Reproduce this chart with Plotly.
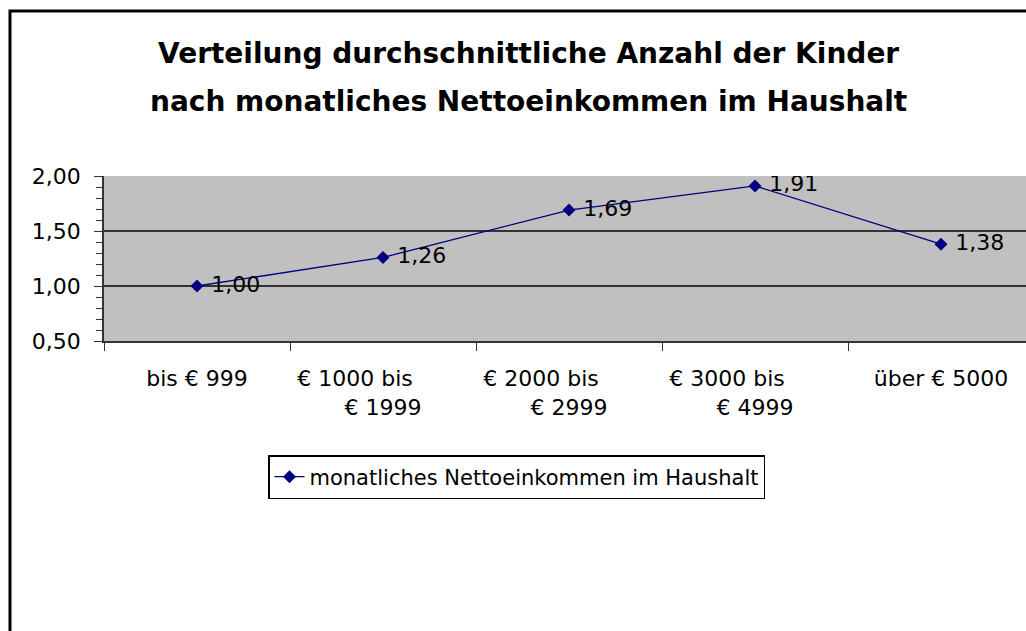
import plotly.graph_objects as go

# Daten
kategorien = ["bis € 999", "€ 1000 bis<br>€ 1999", "€ 2000 bis<br>€ 2999",
              "€ 3000 bis<br>€ 4999", "über € 5000"]
kinder = [1.00, 1.26, 1.69, 1.91, 1.38]
serie = "monatliches Nettoeinkommen im Haushalt"
titel_1 = "Verteilung durchschnittliche Anzahl der Kinder"
titel_2 = "nach monatliches Nettoeinkommen im Haushalt"

W, H = 1026, 631
L, R, T, B = 104, 0, 176, 290
FONT = "DejaVu Sans, Liberation Sans, Arial, sans-serif"


def px_x(x):
    return (x - L) / (W - L - R)


def px_y(y):
    return (H - B - y) / (H - T - B)


# erste Zeile der Beschriftung wie im Original etwas nach links versetzt
ticktext = [k.replace("<br>", "\u00a0" * 8 + "<br>") for k in kategorien]

fig = go.Figure()

fig.add_trace(
    go.Scatter(
        x=kategorien,
        y=kinder,
        mode="lines+markers+text",
        name=serie,
        line=dict(color="#000080", width=1.3),
        marker=dict(symbol="diamond", size=10, color="#000080"),
        texttemplate=" %{y:.2f}",
        textposition="middle right",
        textfont=dict(family=FONT, size=22, color="black"),
    )
)

# Titel in zwei Zeilen
for text, y in [(titel_1, 53), (titel_2, 101)]:
    fig.add_annotation(
        text="<b>" + text + "</b>",
        xref="paper", yref="paper",
        x=px_x(528), y=px_y(y),
        xanchor="center", yanchor="middle",
        showarrow=False,
        font=dict(family=FONT, size=28, color="black"),
    )

# Rahmen des Diagramms
fig.add_shape(
    type="path",
    xref="paper", yref="paper",
    path="M %f %f L %f %f L %f %f" % (
        px_x(10), px_y(640), px_x(10), px_y(11), px_x(1040), px_y(11)),
    line=dict(color="black", width=3),
)

fig.update_layout(
    width=W,
    height=H,
    margin=dict(l=L, r=R, t=T, b=B),
    paper_bgcolor="white",
    plot_bgcolor="#c0c0c0",
    separators=",.",
    font=dict(family=FONT, color="black"),
    showlegend=True,
    legend=dict(
        x=px_x(268), y=px_y(455),
        xanchor="left", yanchor="top",
        bgcolor="white",
        bordercolor="black",
        borderwidth=1.5,
        font=dict(family=FONT, size=21, color="black"),
    ),
    xaxis=dict(
        type="category",
        range=[-0.5, 4.457],
        tickmode="array",
        tickvals=kategorien,
        ticktext=ticktext,
        tickson="boundaries",
        ticks="outside",
        ticklen=8,
        tickcolor="#333333",
        showline=True,
        linecolor="#333333",
        linewidth=1.5,
        showgrid=False,
        zeroline=False,
        ticklabelstandoff=17,
        tickfont=dict(family=FONT, size=22, color="black"),
        fixedrange=True,
    ),
    yaxis=dict(
        range=[0.5, 2.0],
        tickvals=[0.5, 1.0, 1.5, 2.0],
        tickformat=".2f",
        ticks="outside",
        ticklen=8,
        tickcolor="#333333",
        showline=True,
        linecolor="#333333",
        linewidth=1.5,
        showgrid=True,
        gridcolor="#333333",
        gridwidth=1.5,
        zeroline=False,
        minor=dict(dtick=0.1, tick0=0.5, ticks="outside", ticklen=6,
                   tickcolor="#333333", showgrid=False),
        ticklabelstandoff=9,
        tickfont=dict(family=FONT, size=22, color="black"),
        fixedrange=True,
    ),
)

fig.write_html("out.html", config={"displayModeBar": False},
               post_script="document.body.style.margin='0';")
